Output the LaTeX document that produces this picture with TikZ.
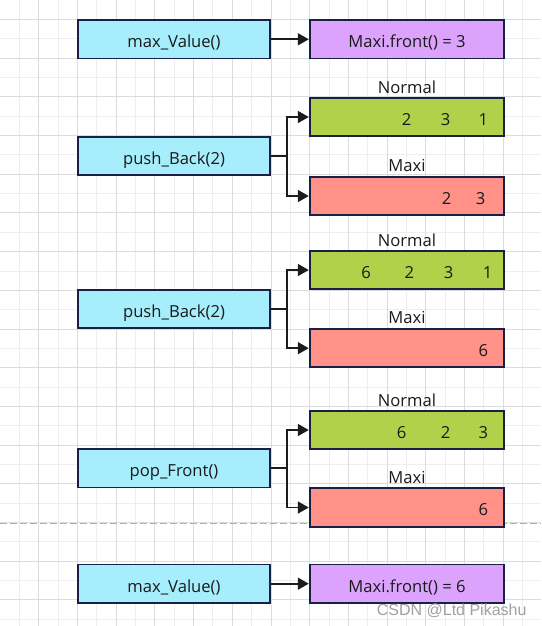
\documentclass[tikz,border=0pt]{standalone}
\usepackage{fontspec}
\setmainfont{Open Sans}
\newfontfamily\wmfont{Liberation Sans}
\usetikzlibrary{arrows.meta,calc}
\definecolor{cyanbox}{HTML}{A6EEFC}
\definecolor{purpbox}{HTML}{DBA3FC}
\definecolor{greenbox}{HTML}{B2D14B}
\definecolor{redbox}{HTML}{FF9189}
\definecolor{edgec}{HTML}{1A1F45}
\definecolor{arrowc}{HTML}{1C1C1C}
\definecolor{txtc}{HTML}{1A1A1A}
\definecolor{gridminor}{HTML}{EEEEEE}
\definecolor{gridmajor}{HTML}{DCDCDC}
\definecolor{dashc}{HTML}{B0B0B0}
\definecolor{wmc}{HTML}{A0A0A0}
\begin{document}
\begin{tikzpicture}[x=1pt,y=-1pt,
  box/.style={draw=edgec, line width=1.8pt, minimum height=38.3pt, inner sep=0pt,
    text height=20.2pt, text depth=3.3pt, font=\fontsize{16.6}{19}\selectfont, text=txtc},
  lbox/.style={box, fill=cyanbox, minimum width=192.7pt},
  rbox/.style={box, minimum width=194.7pt},
  normbox/.style={rbox, fill=greenbox},
  maxibox/.style={rbox, fill=redbox},
  frontbox/.style={rbox, fill=purpbox},
  lbl/.style={anchor=base, inner sep=0pt, font=\fontsize{16.6}{19}\selectfont, text=txtc},
  num/.style={anchor=base, inner sep=0pt, font=\fontsize{16.6}{19}\selectfont, text=txtc},
  arr/.style={draw=arrowc, line width=1.8pt, -{Triangle[length=11pt,width=12pt]}},
  gminor/.style={draw=gridminor, line width=0.8pt},
  gmajor/.style={draw=gridmajor, line width=0.8pt},
]
\useasboundingbox (0,0) rectangle (541,626);
\fill[white] (0,0) rectangle (541,626);
% grid
\foreach \k in {1,...,27} { \draw[gminor] (19.35*\k,0) -- (19.35*\k,626); }
\foreach \k in {1,...,32} { \draw[gminor] (0,19.35*\k) -- (541,19.35*\k); }
\foreach \k in {2,4,...,26} { \draw[gmajor] (19.35*\k,0) -- (19.35*\k,626); }
\foreach \k in {1,3,...,31} { \draw[gmajor] (0,19.35*\k) -- (541,19.35*\k); }
% dashed separator
\coordinate (dl) at (0,523.3);
\coordinate (dr) at (541,523.3);
\draw[dashc, line width=1pt, dash pattern=on 7pt off 3pt] (dl) -- (dr);

% row 1
\node[lbox] (mv1) at (174,39.3) {max\_Value()};
\node[frontbox] (fr1) at (407,39.3) {Maxi.front() = 3};
\draw[arr] (mv1.east) -- (fr1.west);

% group 1
\node[lbox] (pb1) at (174,156) {push\_Back(2)};
\node[normbox] (norm1) at (407,117) {};
\node[maxibox] (maxi1) at (407,196) {};
\node[lbl] (ln1) at ([yshift=3.6pt]norm1.north) {Normal};
\node[lbl] (lm1) at ([yshift=4.3pt]maxi1.north) {Maxi};
\node[num] (n11) at (406.7,125.3) {2};
\node[num] (n12) at (445.7,125.3) {3};
\node[num] (n13) at (483.3,125.3) {1};
\node[num] (m11) at (446.7,204.3) {2};
\node[num] (m12) at (480.7,204.3) {3};
\draw[arr] (pb1.east) -- ++(15.7,0) |- (norm1.west);
\draw[arr] (pb1.east) -- ++(15.7,0) |- (maxi1.west);

% group 2
\node[lbox] (pb2) at (174,309) {push\_Back(2)};
\node[normbox] (norm2) at (407,270) {};
\node[maxibox] (maxi2) at (407,348.2) {};
\node[lbl] (ln2) at ([yshift=3.6pt]norm2.north) {Normal};
\node[lbl] (lm2) at ([yshift=4.3pt]maxi2.north) {Maxi};
\node[num] (n21) at (366,278.3) {6};
\node[num] (n22) at (409.3,278.3) {2};
\node[num] (n23) at (448.7,278.3) {3};
\node[num] (n24) at (487.7,278.3) {1};
\node[num] (m21) at (483.3,356.5) {6};
\draw[arr] (pb2.east) -- ++(15.7,0) |- (norm2.west);
\draw[arr] (pb2.east) -- ++(15.7,0) |- (maxi2.west);

% group 3
\node[lbox] (pf3) at (174,468.3) {pop\_Front()};
\node[normbox] (norm3) at (407,430) {};
\node[maxibox] (maxi3) at (407,507.5) {};
\node[lbl] (ln3) at ([yshift=3.6pt]norm3.north) {Normal};
\node[lbl] (lm3) at ([yshift=4.3pt]maxi3.north) {Maxi};
\node[num] (n31) at (401.7,438.3) {6};
\node[num] (n32) at (445.7,438.3) {2};
\node[num] (n33) at (483.3,438.3) {3};
\node[num] (m31) at (483.3,515.8) {6};
\draw[arr] (pf3.east) -- ++(15.7,0) |- (norm3.west);
\draw[arr] (pf3.east) -- ++(15.7,0) |- (maxi3.west);

% last row
\node[lbox] (mv2) at (174,583.7) {max\_Value()};
\node[frontbox] (fr2) at (407,583.7) {Maxi.front() = 6};
\draw[arr] (mv2.east) -- (fr2.west);

% watermark
\node[anchor=center, inner sep=0pt, text=wmc, font=\wmfont\fontsize{16}{19}\selectfont] (wm) at (451.7,610.5) {CSDN @Ltd Pikashu};
\end{tikzpicture}
\end{document}
